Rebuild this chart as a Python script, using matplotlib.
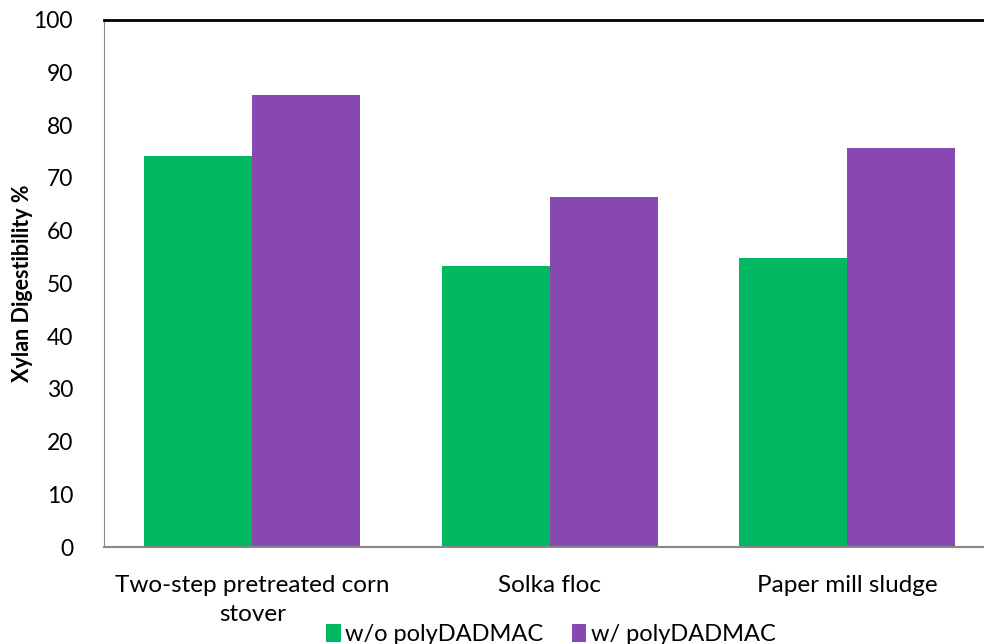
import matplotlib.pyplot as plt
import numpy as np

categories = ["Two-step pretreated corn\nstover", "Solka floc", "Paper mill sludge"]
without_poly = [74.2, 53.2, 54.7]
with_poly = [85.7, 66.4, 75.6]
series_names = ["w/o polyDADMAC", "w/ polyDADMAC"]
yticks = list(range(0, 101, 10))

green = "#00B862"
purple = "#8749AF"

plt.rcParams['font.family'] = ['Lato', 'DejaVu Sans']

fig = plt.figure(figsize=(9.84, 6.44), dpi=100)
ax = fig.add_axes([0.1053, 0.1506, 0.9067, 0.8191])

x = np.arange(len(categories))
w = 0.363
ax.bar(x - w / 2, without_poly, w, color=green, label=series_names[0])
ax.bar(x + w / 2, with_poly, w, color=purple, label=series_names[1])

ax.set_xlim(-0.5, 2.5)
ax.set_ylim(0, 100)
ax.set_yticks(yticks)
ax.set_xticks(x)
ax.set_xticklabels(categories, fontsize=17.5, linespacing=1.5)
ax.tick_params(axis='y', length=0, labelsize=16.5, pad=22)
ax.tick_params(axis='x', length=0, pad=20)

ax.spines['top'].set_color('black')
ax.spines['top'].set_linewidth(2)
ax.spines['left'].set_color('#888888')
ax.spines['bottom'].set_color('#888888')
ax.spines['bottom'].set_linewidth(1.5)
ax.spines['right'].set_visible(False)

ax.set_ylabel("Xylan Digestibility %", fontsize=15.5, fontweight='bold')
ax.yaxis.set_label_coords(-0.079, 0.5)

fig.legend(loc='center', bbox_to_anchor=(0.56, 0.015), ncol=2, frameon=False,
           fontsize=17, handlelength=0.6, handleheight=0.8, handletextpad=0.2,
           columnspacing=1.2, borderpad=0)

fig.savefig("out.png", dpi=100)
